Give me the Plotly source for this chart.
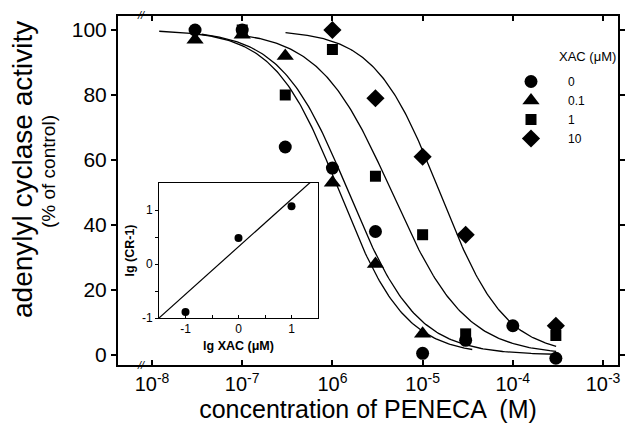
import numpy as np
import plotly.graph_objects as go

# ---------------- data ----------------
conc_xac0 = [3e-8, 1e-7, 3e-7, 1e-6, 3e-6, 1e-5, 3e-5, 1e-4, 3e-4]
act_xac0 = [100, 100, 64, 57.5, 38, 0.5, 4.5, 9, -1]

conc_xac01 = [3e-8, 1e-7, 3e-7, 1e-6, 3e-6, 1e-5]
act_xac01 = [97, 98.5, 92, 53, 28, 6.5]

conc_xac1 = [1e-7, 3e-7, 1e-6, 3e-6, 1e-5, 3e-5, 3e-4]
act_xac1 = [100, 80, 94, 55, 37, 6.5, 6]

conc_xac10 = [1e-6, 3e-6, 1e-5, 3e-5, 3e-4]
act_xac10 = [100, 79, 61, 37, 9]

series_names = ["0", "0.1", "1", "10"]
series_symbols = ["circle", "triangle-up", "square", "diamond"]
series_sizes = [13, 15, 11, 14]

# fitted curves (log10 IC50, Hill slope, log10 start, log10 end)
curve_logic50 = [-5.92, -5.82, -5.34, -4.81]
curve_hill = [1.2, 1.15, 1.07, 1.21]
curve_start = [-7.92, -7.45, -7.0, -6.52]
curve_end = [-4.45, -3.52, -3.52, -3.52]

x_tickvals = [1e-8, 1e-7, 1e-6, 1e-5, 1e-4, 1e-3]
x_ticktext = ["10<sup>-8</sup>", "10<sup>-7</sup>", "10<sup>6</sup>",
              "10<sup>-5</sup>", "10<sup>-4</sup>", "10<sup>-3</sup>"]
y_tickvals = [0, 20, 40, 60, 80, 100]

# inset (Schild plot)
inset_lg_xac = [-1, 0, 1]
inset_lg_cr = [-0.89, 0.48, 1.07]
inset_slope = 0.88
inset_intercept = 0.32

FONT = "Liberation Sans, Arial, Helvetica, sans-serif"

fig = go.Figure()

# curves
for c50, h, s, e in zip(curve_logic50, curve_hill, curve_start, curve_end):
    lx = np.linspace(s, e, 200)
    yy = 100.0 / (1.0 + 10 ** (h * (lx - c50)))
    fig.add_trace(go.Scatter(x=10 ** lx, y=yy, mode="lines",
                             line=dict(color="black", width=1.3),
                             showlegend=False, hoverinfo="skip"))

all_x = [conc_xac0, conc_xac01, conc_xac1, conc_xac10]
all_y = [act_xac0, act_xac01, act_xac1, act_xac10]
for xs, ys, nm, sym, sz in zip(all_x, all_y, series_names, series_symbols, series_sizes):
    fig.add_trace(go.Scatter(x=xs, y=ys, mode="markers", name=nm,
                             marker=dict(symbol=sym, size=sz, color="black",
                                         line=dict(width=0)),
                             cliponaxis=False))

# inset
lx_in = np.array([-1.6, 1.6])
fig.add_trace(go.Scatter(x=lx_in, y=inset_slope * lx_in + inset_intercept, mode="lines",
                         line=dict(color="black", width=1.2), xaxis="x2", yaxis="y2",
                         showlegend=False, hoverinfo="skip"))
fig.add_trace(go.Scatter(x=inset_lg_xac, y=inset_lg_cr, mode="markers",
                         marker=dict(symbol="circle", size=8, color="black"),
                         xaxis="x2", yaxis="y2", showlegend=False))

# page is rendered with the browser's default 8px body margin
OFF = 8
PAGE_W, PAGE_H = 635, 430
W, H = PAGE_W - OFF, PAGE_H - OFF
# plot frame in page pixels
FL, FR, FT, FB = 118, 618, 16, 365
ml, mr, mt, mb = FL - OFF, PAGE_W - FR, FT - OFF, PAGE_H - FB
pw, ph = FR - FL, FB - FT

def px2fx(px):
    return (px - FL) / pw

def px2fy(py):
    return (FB - py) / ph

fig.update_layout(
    width=W, height=H,
    margin=dict(l=ml, r=mr, t=mt, b=mb, autoexpand=False),
    paper_bgcolor="white", plot_bgcolor="white",
    font=dict(family=FONT, color="black"),
    xaxis=dict(type="log", range=[-8.377, -2.834], automargin=False,
               tickvals=x_tickvals, ticktext=x_ticktext,
               ticks="inside", ticklen=5, tickwidth=1.5, tickcolor="black",
               showline=True, linewidth=2, linecolor="black", mirror="ticks",
               showgrid=False, zeroline=False,
               tickfont=dict(size=20, family=FONT),
               title=dict(text="concentration of PENECA  (M)",
                          font=dict(size=25, family=FONT), standoff=6)),
    yaxis=dict(range=[-3.08, 104.3], tickvals=y_tickvals, automargin=False,
               ticks="outside", ticklen=5, tickwidth=1.5, tickcolor="black",
               showline=True, linewidth=2, linecolor="black", mirror="ticks",
               showgrid=False, zeroline=False,
               tickfont=dict(size=21, family=FONT)),
    xaxis2=dict(domain=[px2fx(159), px2fx(318)], anchor="y2", range=[-1.5, 1.5],
                automargin=False,
                tickvals=[-1.5, -1, -0.5, 0, 0.5, 1, 1.5],
                ticktext=["", "-1", "", "0", "", "1", ""],
                ticks="inside", ticklen=3, tickwidth=1, tickcolor="black",
                showline=True, linewidth=1, linecolor="black", mirror=True,
                showgrid=False, zeroline=False,
                tickfont=dict(size=12, family=FONT),
                title=dict(text="<b>lg XAC (μM)</b>", font=dict(size=12.5, family=FONT), standoff=5)),
    yaxis2=dict(domain=[px2fy(318), px2fy(183)], anchor="x2", range=[-1, 1.5],
                automargin=False,
                tickvals=[-1, -0.5, 0, 0.5, 1],
                ticktext=["-1", "", "0", "", "1"],
                ticks="outside", ticklen=3, tickwidth=1, tickcolor="black",
                showline=True, linewidth=1, linecolor="black", mirror=True,
                showgrid=False, zeroline=False,
                tickfont=dict(size=12, family=FONT),
                title=dict(text="<b>lg (CR-1)</b>", font=dict(size=12.5, family=FONT), standoff=4)),
    legend=dict(x=px2fx(494), y=px2fy(67), xanchor="left", yanchor="top",
                bgcolor="rgba(0,0,0,0)", borderwidth=0,
                font=dict(size=12, family=FONT),
                itemwidth=64, tracegroupgap=0),
    showlegend=True,
)

# y-axis title (two lines of different size)
fig.add_annotation(x=px2fx(22), y=px2fy(170), xref="paper", yref="paper",
                   text="adenylyl cyclase activity", textangle=-90, showarrow=False,
                   xanchor="center", yanchor="middle",
                   font=dict(size=28, family=FONT, color="black"))
fig.add_annotation(x=px2fx(48), y=px2fy(172), xref="paper", yref="paper",
                   text="(% of control)", textangle=-90, showarrow=False,
                   xanchor="center", yanchor="middle",
                   font=dict(size=19, family=FONT, color="black"))

# legend heading
fig.add_annotation(x=px2fx(587), y=px2fy(57), xref="paper", yref="paper",
                   text="XAC (μM)", showarrow=False, xanchor="center", yanchor="middle",
                   font=dict(size=13, family=FONT, color="black"))

# axis-break marks
for yy in [px2fy(15), px2fy(365)]:
    fig.add_annotation(x=px2fx(141), y=yy, xref="paper", yref="paper",
                       text="<i>//</i>", showarrow=False, xanchor="center", yanchor="middle",
                       font=dict(size=11, family=FONT, color="black"))

fig.write_html("out.html")
